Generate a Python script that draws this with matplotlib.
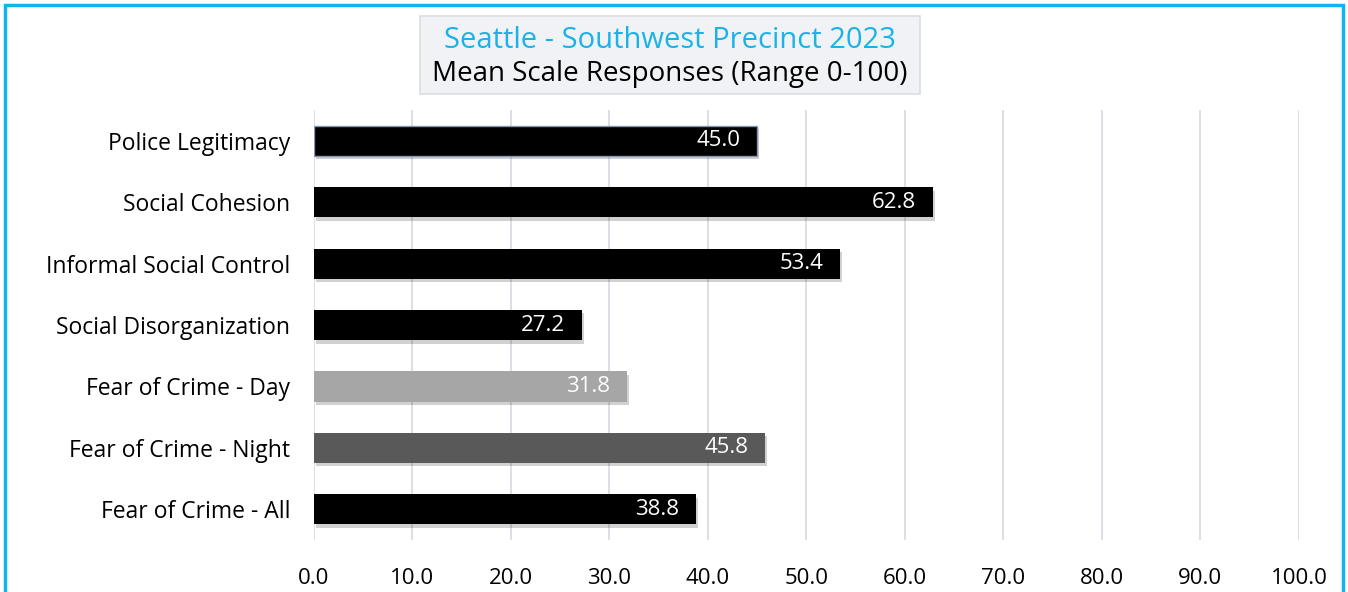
import matplotlib.pyplot as plt
import matplotlib.patheffects as pe
from matplotlib.patches import Rectangle
import numpy as np

categories = ['Police Legitimacy', 'Social Cohesion', 'Informal Social Control',
              'Social Disorganization', 'Fear of Crime - Day',
              'Fear of Crime - Night', 'Fear of Crime - All']
values = [45.0, 62.8, 53.4, 27.2, 31.8, 45.8, 38.8]
bar_colors = ['#000000', '#000000', '#000000', '#000000',
              '#A6A6A6', '#595959', '#000000']
x_ticks = [0, 10, 20, 30, 40, 50, 60, 70, 80, 90, 100]

plt.rcParams['font.family'] = ['Open Sans', 'DejaVu Sans']

fig = plt.figure(figsize=(13.48, 5.92), dpi=100)
ax = fig.add_axes([0.2329, 0.0878, 0.7307, 0.7262])

y = np.arange(len(categories))
shadow = [pe.SimplePatchShadow(offset=(1.5, -2.5), shadow_rgbFace='#000000', alpha=0.18),
          pe.Normal()]
bars = ax.barh(y, values, height=0.49, color=bar_colors, zorder=3,
               edgecolor='none', path_effects=shadow)
bars[0].set_edgecolor('#8496B0')
bars[0].set_linewidth(1.0)

for yi, v in zip(y, values):
    ax.annotate('{:.1f}'.format(v), xy=(v, yi), xytext=(-12, 0),
                textcoords='offset points', ha='right', va='center',
                color='white', fontsize=16, zorder=4)

ax.set_xlim(0, 100)
ax.set_ylim(len(categories) - 0.5, -0.5)
ax.set_xticks(x_ticks)
ax.set_xticklabels(['{:.1f}'.format(t) for t in x_ticks], fontsize=16)
ax.set_yticks(y)
ax.set_yticklabels(categories, fontsize=16.5)
ax.tick_params(length=0, pad=17)
ax.tick_params(axis='x', pad=20)
ax.grid(axis='x', color='#D9DCE3', linewidth=1.3, zorder=0)
for s in ax.spines.values():
    s.set_visible(False)

# title box
box = Rectangle((420 / 1348, 1 - 94 / 592), 500 / 1348, 78 / 592,
                transform=fig.transFigure, facecolor='#F0F2F6',
                edgecolor='#DADDE2', linewidth=1.2)
fig.patches.append(box)
fig.text(670 / 1348, 1 - 40 / 592, 'Seattle - Southwest Precinct 2023',
         ha='center', va='center', fontsize=21, color='#1AB2E8')
fig.text(670 / 1348, 1 - 74 / 592, 'Mean Scale Responses (Range 0-100)',
         ha='center', va='center', fontsize=20, color='#000000')

# outer border (cyan)
fig.patches.append(Rectangle((5 / 1348, -0.05), 1338 / 1348, 1.05 - 5 / 592,
                             transform=fig.transFigure, fill=False,
                             edgecolor='#12B5EA', linewidth=2.5))

fig.savefig('out.png', dpi=100)
